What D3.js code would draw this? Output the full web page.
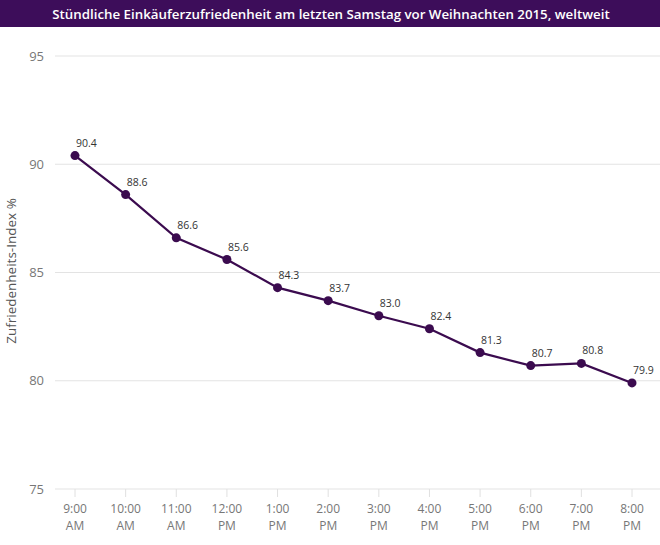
<!DOCTYPE html>
<html><head><meta charset="utf-8">
<script src="https://cdn.jsdelivr.net/npm/d3@7"></script>
<style>body{margin:0;background:#fff}svg{display:block}</style>
</head><body>
<script>
const titleText = "Stündliche Einkäuferzufriedenheit am letzten Samstag vor Weihnachten 2015, weltweit";
const yLabel = "Zufriedenheits-Index %";
const hours = ["9:00","10:00","11:00","12:00","1:00","2:00","3:00","4:00","5:00","6:00","7:00","8:00"];
const periods = ["AM","AM","AM","PM","PM","PM","PM","PM","PM","PM","PM","PM"];
const values = [90.4, 88.6, 86.6, 85.6, 84.3, 83.7, 83.0, 82.4, 81.3, 80.7, 80.8, 79.9];
const yTicks = [75, 80, 85, 90, 95];

const W = 660, H = 545;
const svg = d3.select("body").append("svg").attr("width", W).attr("height", H);
const font = "'Open Sans', 'Noto Sans', sans-serif";

svg.append("rect").attr("x",0).attr("y",0).attr("width",W).attr("height",27).attr("fill","#3d0d5a");
svg.append("text").attr("x",W/2+1).attr("y",18.5).attr("text-anchor","middle")
  .attr("fill","#fff").attr("font-family",font).attr("font-weight",600).attr("font-size",13.3)
  .text(titleText);

const mLeft = 55, mRight = 660, mTop = 56, mBottom = 489;
const x = d3.scalePoint().domain(d3.range(hours.length)).range([75, 632]);
const y = d3.scaleLinear().domain([75, 95]).range([mBottom, mTop]);

// gridlines
svg.append("g").selectAll("line").data(yTicks).join("line")
  .attr("x1", mLeft).attr("x2", mRight).attr("y1", d=>y(d)).attr("y2", d=>y(d))
  .attr("stroke","#e3e3e3").attr("stroke-width",1);

// y tick labels
svg.append("g").selectAll("text").data(yTicks).join("text")
  .attr("x", 44).attr("y", d=>y(d)+4.5).attr("text-anchor","end")
  .attr("fill","#777").attr("font-family",font).attr("font-size",13).text(d=>d);

// y label
svg.append("text").attr("transform","translate(16,271) rotate(-90)").attr("text-anchor","middle")
  .attr("fill","#555").attr("font-family",font).attr("font-size",13.5).text(yLabel);

// x ticks
const xg = svg.append("g");
xg.selectAll("line").data(hours).join("line")
  .attr("x1",(d,i)=>x(i)).attr("x2",(d,i)=>x(i)).attr("y1",mBottom).attr("y2",mBottom+8)
  .attr("stroke","#e0e0e0");
xg.selectAll("text.h").data(hours).join("text").attr("class","h")
  .attr("x",(d,i)=>x(i)).attr("y",513).attr("text-anchor","middle")
  .attr("fill","#777").attr("font-family",font).attr("font-size",12).text(d=>d);
xg.selectAll("text.p").data(periods).join("text").attr("class","p")
  .attr("x",(d,i)=>x(i)).attr("y",530).attr("text-anchor","middle")
  .attr("fill","#777").attr("font-family",font).attr("font-size",12).text(d=>d);

// line
const line = d3.line().x((d,i)=>x(i)).y(d=>y(d));
svg.append("path").datum(values).attr("d",line).attr("fill","none")
  .attr("stroke","#3b0b4f").attr("stroke-width",2.2);
svg.append("g").selectAll("circle").data(values).join("circle")
  .attr("cx",(d,i)=>x(i)).attr("cy",d=>y(d)).attr("r",4.5).attr("fill","#3b0b4f");
svg.append("g").selectAll("text").data(values).join("text")
  .attr("x",(d,i)=>x(i)+1).attr("y",d=>y(d)-9).attr("text-anchor","start")
  .attr("fill","#333").attr("font-family",font).attr("font-size",10.5).text(d=>d.toFixed(1));
</script>
</body></html>
